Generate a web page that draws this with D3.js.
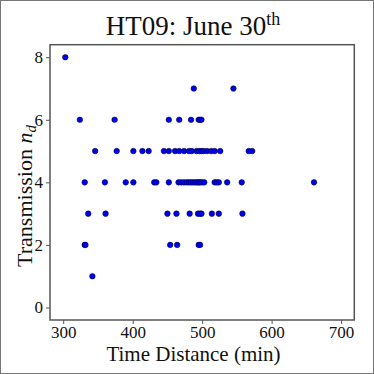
<!DOCTYPE html>
<html><head><meta charset="utf-8">
<script src="https://d3js.org/d3.v7.min.js"></script>
<style>
html,body{margin:0;padding:0;background:#fff;}
svg{display:block;}
text{font-family:"Liberation Serif","Times New Roman",serif;fill:#111;}
</style></head>
<body>
<script>
// Data
const timeDistance = [
  303,
  488, 545,
  324, 374, 452, 467, 484, 495, 497, 499,
  346, 377, 401, 414, 423, 445, 452, 461, 467, 474, 481, 485, 492, 496, 499, 502, 507, 513, 518, 526, 567, 572,
  331, 360, 390, 401, 431, 434, 452, 466, 470, 474, 478, 481, 484, 487, 490, 493, 495, 497, 500, 503, 518, 521, 524, 536, 557, 661,
  336, 361, 450, 463, 482, 494, 497, 499, 514, 524, 558,
  331, 332, 454, 464, 495, 497,
  342
];
const transmission = [
  8,
  7, 7,
  6, 6, 6, 6, 6, 6, 6, 6,
  5, 5, 5, 5, 5, 5, 5, 5, 5, 5, 5, 5, 5, 5, 5, 5, 5, 5, 5, 5, 5, 5,
  4, 4, 4, 4, 4, 4, 4, 4, 4, 4, 4, 4, 4, 4, 4, 4, 4, 4, 4, 4, 4, 4, 4, 4, 4, 4,
  3, 3, 3, 3, 3, 3, 3, 3, 3, 3, 3,
  2, 2, 2, 2, 2, 2,
  1
];
const xTicks = [300, 400, 500, 600, 700];
const yTicks = [0, 2, 4, 6, 8];
const titleText = "HT09: June 30";
const titleSup = "th";
const xLabel = "Time Distance (min)";
const yLabel = "Transmission ";

const W = 374, H = 374;
const L = 50, R = 354.3, T = 44.7, B = 320;
const svg = d3.select("body").append("svg").attr("width", W).attr("height", H);
svg.append("rect").attr("x",0.5).attr("y",0.5).attr("width",W-1).attr("height",H-1)
  .attr("fill","#fff").attr("stroke","#777").attr("stroke-width",1);

const x = d3.scaleLinear().domain([281, 719]).range([L, R]);
const y = d3.scaleLinear().domain([-0.4, 8.4]).range([B, T]);

const axColor = "#555";
const gx = svg.append("g").attr("transform",`translate(0,${B})`)
  .call(d3.axisBottom(x).tickValues(xTicks).tickSize(4).tickPadding(2).tickFormat(d3.format("d")));
const gy = svg.append("g").attr("transform",`translate(${L},0)`)
  .call(d3.axisLeft(y).tickValues(yTicks).tickSize(4).tickPadding(3).tickFormat(d3.format("d")));
[gx, gy].forEach(g => {
  g.select(".domain").remove();
  g.selectAll(".tick line").attr("stroke", axColor).attr("stroke-width", 1);
  g.selectAll(".tick text").attr("font-family", '"Liberation Serif",serif').attr("font-size", 17).attr("fill","#111");
});

svg.append("rect").attr("x",L).attr("y",T).attr("width",R-L).attr("height",B-T)
  .attr("fill","none").attr("stroke",axColor).attr("stroke-width",1.5);

svg.append("g").selectAll("circle").data(timeDistance.map((d,i)=>[d, transmission[i]]))
  .join("circle")
  .attr("cx", d => x(d[0])).attr("cy", d => y(d[1])).attr("r", 2.8)
  .attr("fill", "#0000ee").attr("stroke", "#000022").attr("stroke-width", 0.5);

// Title
const tt = svg.append("text").attr("x", 193).attr("y", 35).attr("text-anchor","middle").attr("font-size", 27);
tt.append("tspan").text(titleText);
tt.append("tspan").attr("dy", -10).attr("font-size", 18).text(titleSup);

// X label
svg.append("text").attr("x", 193.5).attr("y", 361).attr("text-anchor","middle").attr("font-size", 21).text(xLabel);

// Y label
const yl = svg.append("text").attr("transform", "translate(32,196) rotate(-90)").attr("text-anchor","middle").attr("font-size", 22);
yl.append("tspan").text(yLabel);
yl.append("tspan").attr("font-style","italic").text("n");
yl.append("tspan").attr("dy", 4).attr("font-size", 15).attr("font-style","italic").text("d");
</script>
</body></html>
